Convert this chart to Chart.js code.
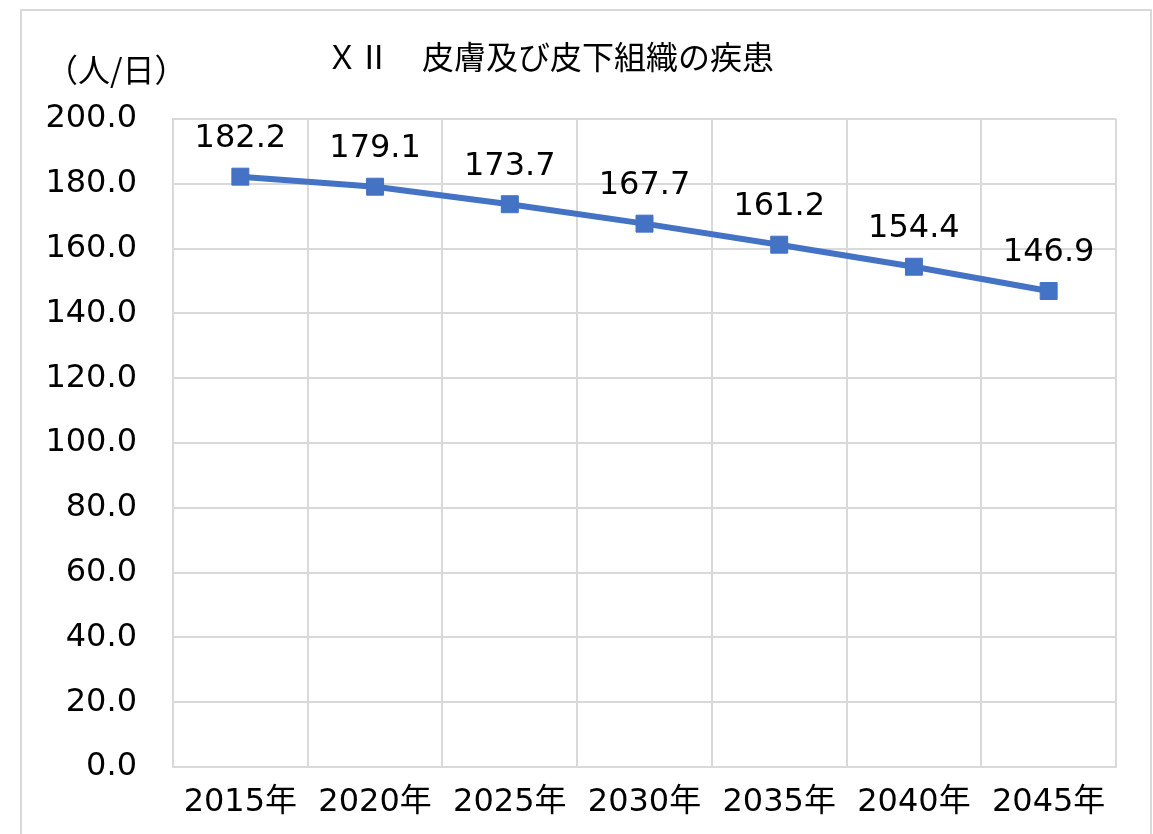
<!DOCTYPE html>
<html>
<head>
<meta charset="utf-8">
<script src="https://cdn.jsdelivr.net/npm/chart.js@4.4.1/dist/chart.umd.min.js"></script>
<style>
  html, body { margin: 0; padding: 0; background: #fff; }
  #wrap { width: 1153px; height: 834px; position: relative; }
</style>
</head>
<body>
<div id="wrap"><canvas id="chart"></canvas></div>
<script>
const chartTitle = "ＸⅡ　皮膚及び皮下組織の疾患";
const unitLabel = "（人/日）";
const years = ["2015年", "2020年", "2025年", "2030年", "2035年", "2040年", "2045年"];
const patients = [182.2, 179.1, 173.7, 167.7, 161.2, 154.4, 146.9];
const yMin = 0;
const yMax = 200;
const yStep = 20;

const numFont = "'DejaVu Sans', 'Noto Sans CJK JP', sans-serif";
const jpFont = "'Noto Sans CJK JP', sans-serif";
const gridColor = "#d9d9d9";
const lineColor = "#4472C4";

// frame, title and unit label
const decorPlugin = {
  id: "decor",
  beforeDraw(chart) {
    const ctx = chart.ctx;
    ctx.save();
    ctx.fillStyle = "#fff";
    ctx.fillRect(0, 0, chart.width, chart.height);
    ctx.strokeStyle = gridColor;
    ctx.lineWidth = 2;
    ctx.strokeRect(21, 10, 1130, 840);
    ctx.restore();
  },
  afterDraw(chart) {
    const ctx = chart.ctx;
    ctx.save();
    ctx.fillStyle = "#000";
    ctx.textBaseline = "middle";
    ctx.textAlign = "center";
    ctx.font = "32px " + jpFont;
    ctx.fillText(chartTitle, 550, 57);
    ctx.textAlign = "left";
    ctx.font = "32px " + jpFont;
    ctx.fillText(unitLabel, 46, 70);
    ctx.restore();
  }
};

// value labels above each point
const valueLabels = {
  id: "valueLabels",
  afterDatasetsDraw(chart) {
    const ctx = chart.ctx;
    const meta = chart.getDatasetMeta(0);
    ctx.save();
    ctx.fillStyle = "#000";
    ctx.font = "32px " + numFont;
    ctx.textAlign = "center";
    ctx.textBaseline = "middle";
    meta.data.forEach((pt, i) => {
      ctx.fillText(patients[i].toFixed(1), pt.x, pt.y - 38);
    });
    ctx.restore();
  }
};

new Chart(document.getElementById("chart"), {
  type: "line",
  data: {
    labels: years,
    datasets: [{
      data: patients,
      borderColor: lineColor,
      backgroundColor: lineColor,
      borderWidth: 6,
      pointStyle: "rect",
      pointRadius: 12,
      pointHoverRadius: 12,
      pointBorderWidth: 1,
      tension: 0
    }]
  },
  options: {
    responsive: true,
    maintainAspectRatio: false,
    animation: false,
    layout: { padding: { top: 119, right: 37, left: 0, bottom: 0 } },
    plugins: {
      legend: { display: false },
      title: { display: false },
      tooltip: { enabled: false }
    },
    scales: {
      x: {
        offset: true,
        grid: { offset: true, color: gridColor, lineWidth: 2, drawTicks: false },
        border: { color: gridColor, width: 2 },
        ticks: { color: "#000", font: { family: numFont, size: 32 }, padding: 16, maxRotation: 0, autoSkip: false },
        afterFit(scale) { scale.height = 67; }
      },
      y: {
        min: yMin,
        max: yMax,
        grid: { color: gridColor, lineWidth: 2, drawTicks: false },
        border: { color: gridColor, width: 2 },
        ticks: {
          stepSize: yStep,
          color: "#000",
          font: { family: numFont, size: 32 },
          padding: 36,
          callback: (v) => Number(v).toFixed(1)
        },
        afterFit(scale) { scale.width = 173; }
      }
    }
  },
  plugins: [decorPlugin, valueLabels]
});
</script>
</body>
</html>
